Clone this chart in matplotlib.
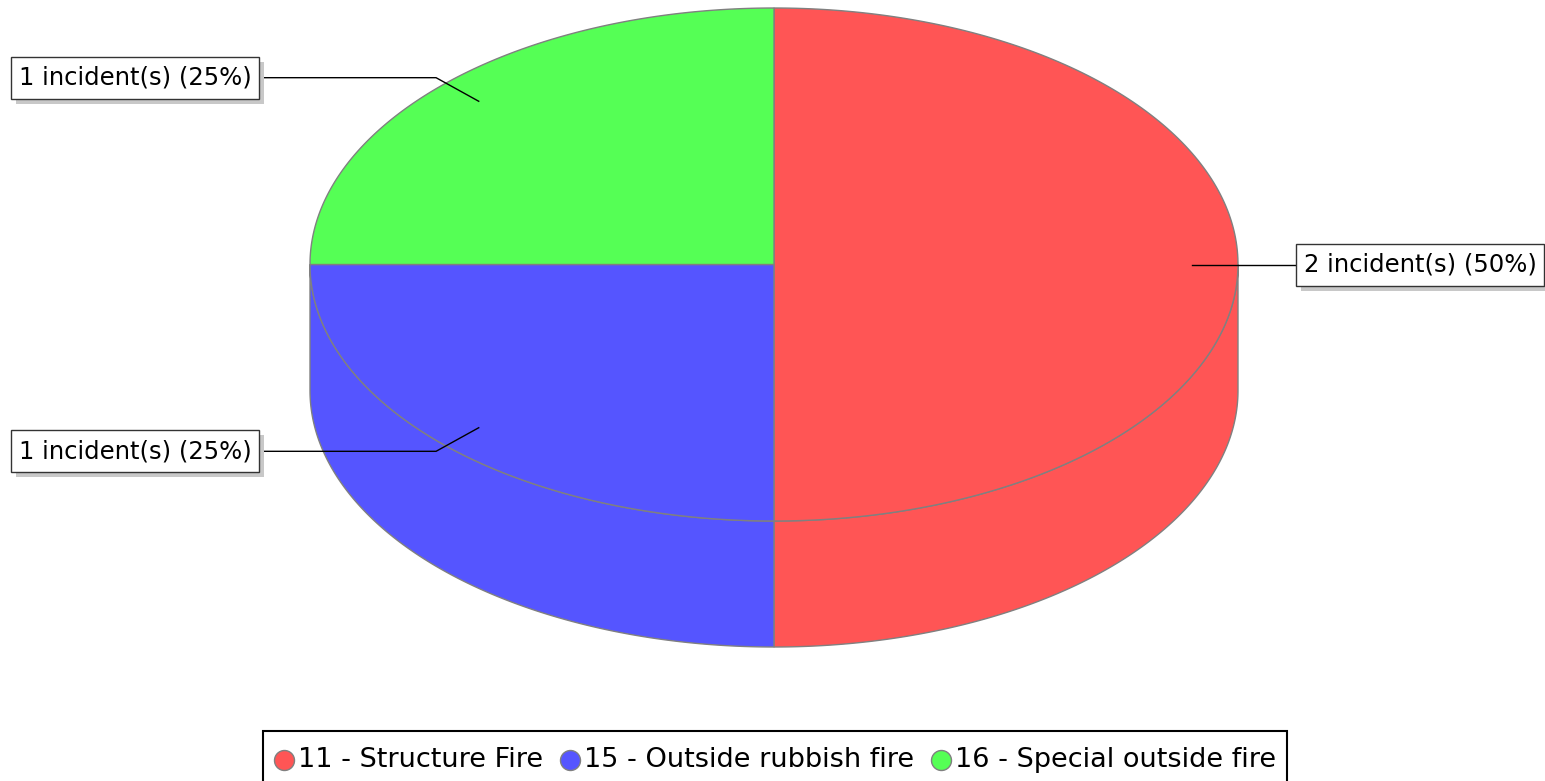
import numpy as np
import matplotlib
matplotlib.use("Agg")
import matplotlib.pyplot as plt
from matplotlib.patches import Polygon, Rectangle

# ---- data ----
categories = ['11 - Structure Fire', '15 - Outside rubbish fire', '16 - Special outside fire']
values = [2, 1, 1]
colors = ['#FF5555', '#5555FF', '#55FF55']

total = sum(values)
labels = [f'{v} incident(s) ({v / total * 100:.0f}%)' for v in values]

W, H = 1545, 781
fig = plt.figure(figsize=(W / 100, H / 100), dpi=100)
ax = fig.add_axes([0, 0, 1, 1])
ax.set_xlim(0, W)
ax.set_ylim(H, 0)
ax.axis('off')

cx, cy, a, b, depth = 774, 264.5, 464, 256.5, 126
EDGE = '#808080'
FONT = 'DejaVu Sans'
LABEL_FS = 17.5
LEGEND_FS = 19.5


def pt(theta, r=1.0, dy=0.0):
    t = np.radians(theta)
    return cx + a * r * np.cos(t), cy - b * r * np.sin(t) + dy


def arc(t1, t2, dy=0.0, n=200):
    ts = np.radians(np.linspace(t1, t2, n))
    return np.column_stack([cx + a * np.cos(ts), cy - b * np.sin(ts) + dy])


# slice angles: start at 90 deg, clockwise
spans = []
start = 90.0
for v in values:
    ext = 360.0 * v / total
    spans.append((start, start - ext))
    start -= ext

# side walls (front half: angles in [-180, 0])
for (t1, t2), col in zip(spans, colors):
    hi, lo = t1, t2
    for k in (-360, 0, 360):
        h = min(hi + k, 0)
        l = max(lo + k, -180)
        if h - l > 1e-6:
            top = arc(h, l)
            bot = arc(l, h, dy=depth)
            ax.add_patch(Polygon(np.vstack([top, bot]), closed=True,
                                 facecolor=col, edgecolor=EDGE, lw=1, zorder=1))

# top faces
for (t1, t2), col in zip(spans, colors):
    pts = np.vstack([[cx, cy], arc(t1, t2)])
    ax.add_patch(Polygon(pts, closed=True, facecolor=col, edgecolor=EDGE,
                         lw=1, zorder=2))

# labels with leader lines
left_box_right = 259
right_box_left = 1296
box_h = 42
for (t1, t2), lab in zip(spans, labels):
    mid = (t1 + t2) / 2.0
    ax_, ay_ = pt(mid, 0.9)
    ex, ey = pt(mid, 1.03)
    if np.cos(np.radians(mid)) >= -1e-9:
        bx = right_box_left
        ax.plot([ax_, ex, bx], [ay_, ey, ey], color='black', lw=1, zorder=3)
        txt = ax.text(bx + 8, ey, lab, fontsize=LABEL_FS, family=FONT,
                      va='center', ha='left', zorder=5)
        fig.canvas.draw()
        bb = txt.get_window_extent().transformed(ax.transData.inverted())
        w = (bb.x1 - bx) + 7
        x0 = bx
    else:
        bx = left_box_right
        ax.plot([ax_, ex, bx], [ay_, ey, ey], color='black', lw=1, zorder=3)
        txt = ax.text(bx - 7, ey, lab, fontsize=LABEL_FS, family=FONT,
                      va='center', ha='right', zorder=5)
        fig.canvas.draw()
        bb = txt.get_window_extent().transformed(ax.transData.inverted())
        w = (bx - bb.x0) + 8
        x0 = bx - w
    y0 = ey - box_h / 2
    ax.add_patch(Rectangle((x0 + 5, y0 + 5), w, box_h, facecolor='#C8C8C8',
                           edgecolor='none', zorder=3.5))
    ax.add_patch(Rectangle((x0, y0), w, box_h, facecolor='white',
                           edgecolor='#333333', lw=1, zorder=4))

# legend
leg_y = 760
widths = []
for cat in categories:
    t = ax.text(0, leg_y, cat, fontsize=LEGEND_FS, family=FONT, va='center', ha='left')
    fig.canvas.draw()
    bb = t.get_window_extent().transformed(ax.transData.inverted())
    widths.append(bb.x1 - bb.x0)
    t.remove()
rad = 10
gap_text = 4
gap_item = 17
pad = 11
total_w = sum(2 * rad + gap_text + w for w in widths) + gap_item * (len(widths) - 1)
x = 775 - total_w / 2
for cat, col, w in zip(categories, colors, widths):
    ax.plot([x + rad], [leg_y], marker='o', markersize=2 * rad * 0.72,
            markerfacecolor=col, markeredgecolor=EDGE, markeredgewidth=1,
            zorder=6)
    ax.text(x + 2 * rad + gap_text, leg_y, cat, fontsize=LEGEND_FS, family=FONT,
            va='center', ha='left', zorder=6)
    x += 2 * rad + gap_text + w + gap_item
lx0 = 775 - total_w / 2 - pad
ax.add_patch(Rectangle((lx0, 731), total_w + 2 * pad, 60, facecolor='white',
                       edgecolor='black', lw=1.5, zorder=5))

fig.savefig('out.png', dpi=100)
